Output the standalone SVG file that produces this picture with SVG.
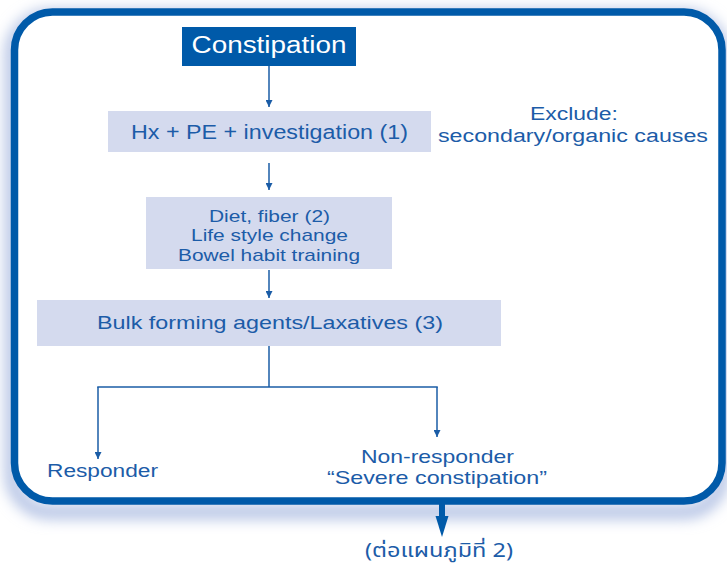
<svg xmlns="http://www.w3.org/2000/svg" width="727" height="567" viewBox="0 0 727 567">
  <defs>
    <style>
      .txt { font-family: "Liberation Sans", Arial, sans-serif; fill: #1c5ca8; text-anchor: middle; }
      .box { fill: #d4daee; }
      .conn { stroke: #1a5ca6; stroke-width: 1.5; fill: none; }
    </style>
    <marker id="ah" markerWidth="7" markerHeight="7" refX="7" refY="3.5" orient="auto" markerUnits="userSpaceOnUse" viewBox="0 0 7 7">
      <path d="M0,0 L7,3.5 L0,7 Z" fill="#1a5ca6"/>
    </marker>
    <filter id="glow" x="-10%" y="-10%" width="120%" height="125%">
      <feGaussianBlur stdDeviation="7"/>
    </filter>
  </defs>
  <rect width="727" height="567" fill="#ffffff"/>

  <g id="frame">
    <rect x="12" y="16" width="710" height="496" rx="38" ry="38" fill="none" stroke="#b4c2e4" stroke-width="14" filter="url(#glow)"/>
    <rect x="14.5" y="12" width="707.5" height="489" rx="38" ry="38" fill="#ffffff" stroke="#005aa9" stroke-width="7.5"/>
  </g>

  <g id="connectors">
    <line class="conn" x1="269" y1="66" x2="269" y2="107" marker-end="url(#ah)"/>
    <line class="conn" x1="269" y1="163" x2="269" y2="190" marker-end="url(#ah)"/>
    <line class="conn" x1="269" y1="270" x2="269" y2="298" marker-end="url(#ah)"/>
    <polyline class="conn" points="269,346 269,387"/>
    <line class="conn" x1="97.25" y1="387" x2="437.75" y2="387"/>
    <line class="conn" x1="98" y1="387" x2="98" y2="459" marker-end="url(#ah)"/>
    <line class="conn" x1="437" y1="387" x2="437" y2="437" marker-end="url(#ah)"/>
    <line x1="442" y1="504" x2="442" y2="518" stroke="#005aa9" stroke-width="6"/>
    <path d="M435.5,516 L448.5,516 L442,537 Z" fill="#005aa9"/>
  </g>

  <g id="constipation">
    <rect x="182" y="27" width="174" height="39" fill="#005aa9"/>
    <text x="269" y="53" class="txt" style="fill:#ffffff" font-size="23" textLength="155" lengthAdjust="spacingAndGlyphs">Constipation</text>
  </g>

  <g id="hx">
    <rect class="box" x="108" y="111" width="323" height="41"/>
    <text x="269.5" y="139" class="txt" font-size="20" textLength="277" lengthAdjust="spacingAndGlyphs">Hx + PE + investigation (1)</text>
  </g>

  <g id="exclude">
    <text x="574" y="120" class="txt" font-size="18" textLength="88" lengthAdjust="spacingAndGlyphs">Exclude:</text>
    <text x="573" y="142" class="txt" font-size="18" textLength="270" lengthAdjust="spacingAndGlyphs">secondary/organic causes</text>
  </g>

  <g id="diet">
    <rect class="box" x="146" y="197" width="246" height="72"/>
    <text x="269.5" y="222" class="txt" font-size="17" textLength="121" lengthAdjust="spacingAndGlyphs">Diet, fiber (2)</text>
    <text x="269.5" y="241" class="txt" font-size="17" textLength="157" lengthAdjust="spacingAndGlyphs">Life style change</text>
    <text x="269" y="261" class="txt" font-size="17" textLength="182" lengthAdjust="spacingAndGlyphs">Bowel habit training</text>
  </g>

  <g id="bulk">
    <rect class="box" x="37" y="300" width="464" height="46"/>
    <text x="270" y="329" class="txt" font-size="19" textLength="346" lengthAdjust="spacingAndGlyphs">Bulk forming agents/Laxatives (3)</text>
  </g>

  <g id="responder">
    <text x="102.5" y="477" class="txt" font-size="18" textLength="111" lengthAdjust="spacingAndGlyphs">Responder</text>
  </g>

  <g id="nonresponder">
    <text x="437.5" y="463" class="txt" font-size="18.5" textLength="153" lengthAdjust="spacingAndGlyphs">Non-responder</text>
    <text x="437" y="484" class="txt" font-size="18.5" textLength="220" lengthAdjust="spacingAndGlyphs">“Severe constipation”</text>
  </g>

  <g id="next">
    <text x="439" y="557" class="txt" style="font-family:'Noto Sans Thai','Noto Sans','DejaVu Sans',sans-serif" font-size="19" textLength="148" lengthAdjust="spacingAndGlyphs">(ต่อแผนภูมิที่ 2)</text>
  </g>
</svg>
